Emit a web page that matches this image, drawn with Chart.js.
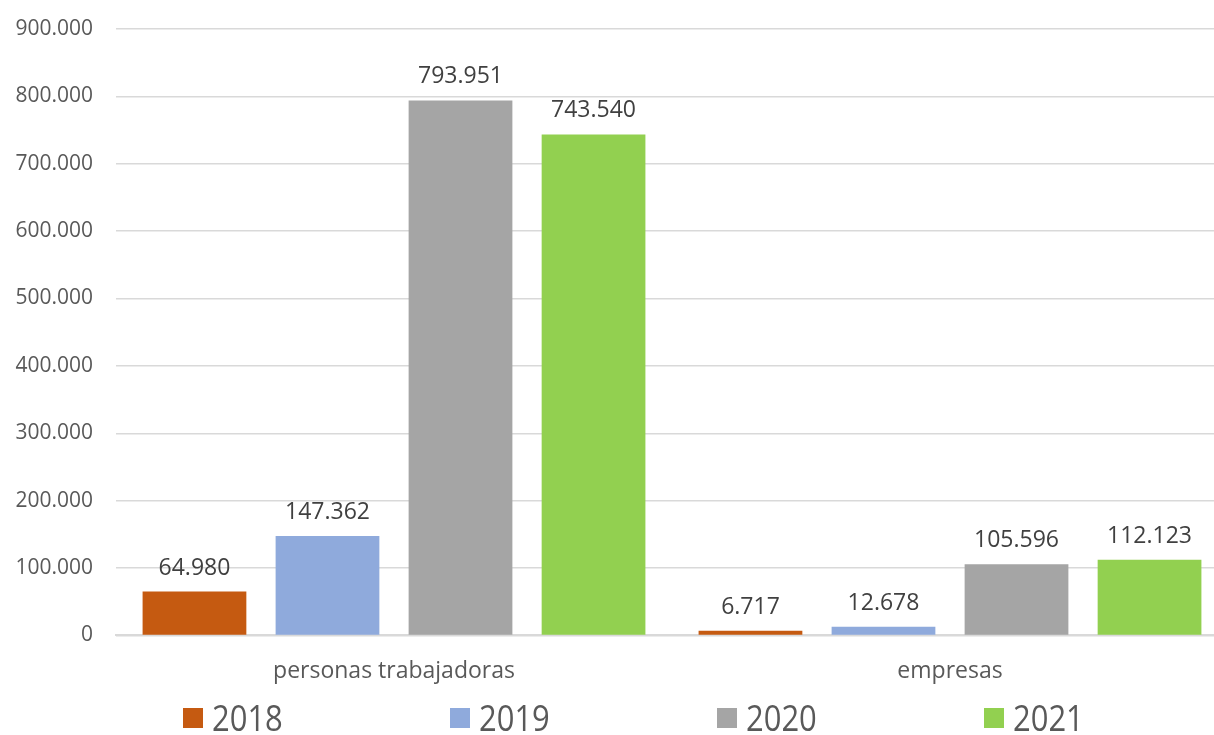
<!DOCTYPE html>
<html lang="es">
<head>
  <meta charset="UTF-8" />
  <title>Personas trabajadoras y empresas</title>
  <script src="https://cdn.jsdelivr.net/npm/chart.js"></script>
  <style>
    html, body { margin: 0; padding: 0; background: #fff; overflow: hidden; }
    #wrap { position: relative; width: 1214px; height: 735px; overflow: hidden; }
    #legend {
      position: absolute;
      left: 183px;
      top: 700px;
      display: flex;
      font-family: 'Open Sans', 'Noto Sans', sans-serif;
      font-size: 36px;
      color: #595959;
    }
    .item { width: 267px; display: flex; align-items: center; height: 36px; }
    .box { width: 20px; height: 20px; margin-right: 9px; }
    .txt { display: inline-block; transform: scaleX(0.86); transform-origin: left center; line-height: 36px; }
  </style>
</head>
<body>
  <div id="wrap">
    <!-- plot area runs a little past the right edge -->
    <canvas id="chart" width="1228" height="735"></canvas>
    <div id="legend"></div>
  </div>
  <script>
    const categories = ["personas trabajadoras", "empresas"];
    const years = ["2018", "2019", "2020", "2021"];
    const values2018 = [64980, 6717];
    const values2019 = [147362, 12678];
    const values2020 = [793951, 105596];
    const values2021 = [743540, 112123];
    const colors = ["#c55a11", "#8faadc", "#a5a5a5", "#92d050"];

    const series = [values2018, values2019, values2020, values2021];
    const baseFont = "'Open Sans', 'Noto Sans', sans-serif";

    // numbers with a dot as thousands separator
    function fmt(v) {
      return v.toString().replace(/\B(?=(\d{3})+(?!\d))/g, ".");
    }

    // value written above each bar
    const barLabels = {
      id: "barLabels",
      afterDatasetsDraw(chart) {
        const ctx = chart.ctx;
        ctx.save();
        ctx.font = "23px " + baseFont;
        ctx.fillStyle = "#404040";
        ctx.textAlign = "center";
        ctx.textBaseline = "alphabetic";
        chart.data.datasets.forEach((ds, i) => {
          chart.getDatasetMeta(i).data.forEach((bar, j) => {
            ctx.fillText(fmt(ds.data[j]), bar.x, bar.y - 17);
          });
        });
        ctx.restore();
      }
    };

    const chart = new Chart(document.getElementById("chart"), {
      type: "bar",
      data: {
        labels: categories,
        datasets: years.map((y, i) => ({
          label: y,
          data: series[i],
          backgroundColor: colors[i],
          categoryPercentage: 0.957,
          barPercentage: 0.78
        }))
      },
      options: {
        responsive: false,
        animation: false,
        layout: { padding: { top: 29, right: 0, left: 0, bottom: 36 } },
        scales: {
          x: {
            grid: { display: false },
            border: { color: "#d9d9d9", width: 2 },
            ticks: { color: "#595959", font: { family: baseFont, size: 23 }, padding: 14 }
          },
          y: {
            min: 0,
            max: 900000,
            border: { display: false },
            grid: { color: "#d9d9d9", lineWidth: 1.5, drawTicks: false },
            afterFit: axis => {
              axis.width = 116;
              axis.paddingTop = 0;
              axis.paddingBottom = 0;
            },
            ticks: {
              stepSize: 100000,
              color: "#595959",
              padding: 23,
              font: { family: baseFont, size: 21 },
              callback: v => fmt(v)
            }
          }
        },
        plugins: {
          tooltip: { enabled: false },
          legend: { display: false }
        }
      },
      plugins: [barLabels]
    });

    // legend row under the chart
    const legend = document.getElementById("legend");
    chart.data.datasets.forEach(ds => {
      const item = document.createElement("div");
      item.className = "item";
      item.innerHTML = '<span class="box" style="background:' + ds.backgroundColor + '"></span>' +
        '<span class="txt">' + ds.label + '</span>';
      legend.appendChild(item);
    });
  </script>
</body>
</html>
